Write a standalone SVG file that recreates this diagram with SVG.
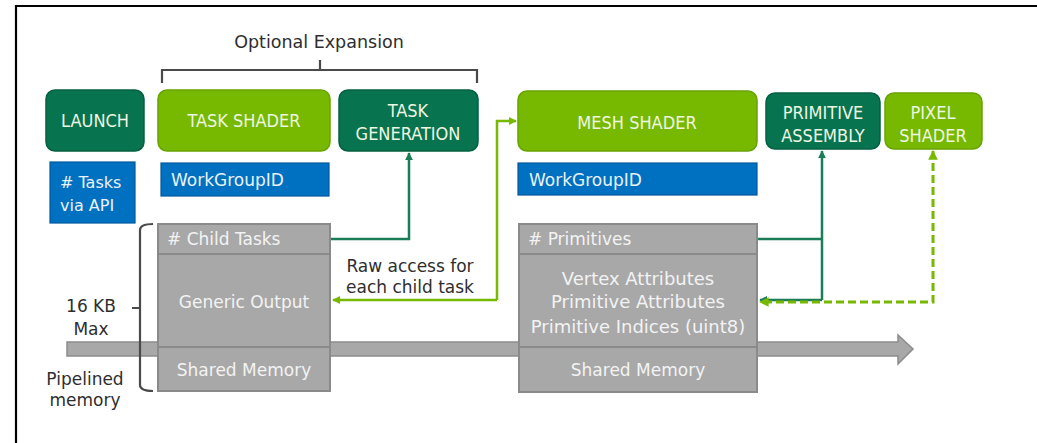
<svg xmlns="http://www.w3.org/2000/svg" width="1037" height="443" viewBox="0 0 1037 443">
<style>
.lg{fill:#76b900;stroke:#68a300;stroke-width:1.5}
.dg{fill:#08734f;stroke:#05603f;stroke-width:1.5}
.bl{fill:#0070c0;stroke:#0058a0;stroke-width:1.2}
.gr{fill:#a8a8a8;stroke:#8a8a8a;stroke-width:2}
.bt{font-family:"DejaVu Sans Condensed","DejaVu Sans",sans-serif;font-size:18px;fill:#eef6e2;text-anchor:middle}
.wt{font-family:"DejaVu Sans",sans-serif;font-size:17px;fill:#eaf2fb}
.gt{font-family:"DejaVu Sans",sans-serif;font-size:17px;fill:#f3f3f3}
.dt{font-family:"DejaVu Sans",sans-serif;font-size:17px;fill:#2e2e2e;text-anchor:middle}
.c1{fill:none;stroke:#1b7d58;stroke-width:2.5}
.c2{fill:none;stroke:#76b900;stroke-width:2.5}
.c3{fill:none;stroke:#76b900;stroke-width:3;stroke-dasharray:8 4}
.br{fill:none;stroke:#4a4a4a;stroke-width:2.2}
</style>
<defs>
<marker id="ad" viewBox="0 0 10 10" refX="9" refY="5" markerWidth="3.2" markerHeight="3.2" orient="auto-start-reverse"><path d="M0,0 L10,5 L0,10 z" fill="#1b7d58"/></marker>
<marker id="al" viewBox="0 0 10 10" refX="9" refY="5" markerWidth="3.2" markerHeight="3.2" orient="auto-start-reverse"><path d="M0,0 L10,5 L0,10 z" fill="#76b900"/></marker>
</defs>
<rect width="1037" height="443" fill="#ffffff"/>
<path d="M16,443 V6 H1037" fill="none" stroke="#000" stroke-width="2.2"/>

<g id="pipeline-arrow">
<polygon points="67,342 898,342 898,335 913,349 898,364 898,356 67,356" fill="#a8a8a8" stroke="#8c8c8c" stroke-width="1.5"/>
</g>

<g id="optional-expansion">
<path class="br" d="M162,83 V70 H477 V83 M320,70 V60"/>
<text x="319" y="48" class="dt" style="font-size:17.5px">Optional Expansion</text>
</g>

<g id="launch">
<rect x="46" y="90" width="98" height="61" rx="9" class="dg"/>
<text x="95" y="127" class="bt">LAUNCH</text>
</g>
<g id="task-shader">
<rect x="158" y="90" width="172" height="61" rx="9" class="lg"/>
<text x="244" y="127" class="bt">TASK SHADER</text>
</g>
<g id="task-generation">
<rect x="339" y="90" width="139" height="61" rx="9" class="dg"/>
<text x="408" y="117" class="bt">TASK</text>
<text x="408" y="140" class="bt">GENERATION</text>
</g>
<g id="mesh-shader">
<rect x="518" y="91" width="239" height="60" rx="9" class="lg"/>
<text x="637" y="129" class="bt">MESH SHADER</text>
</g>
<g id="primitive-assembly">
<rect x="766" y="93" width="114" height="56" rx="9" class="dg"/>
<text x="823" y="119" class="bt">PRIMITIVE</text>
<text x="823" y="142" class="bt">ASSEMBLY</text>
</g>
<g id="pixel-shader">
<rect x="885" y="93" width="97" height="56" rx="9" class="lg"/>
<text x="933" y="119" class="bt">PIXEL</text>
<text x="933" y="142" class="bt">SHADER</text>
</g>

<g id="tasks-via-api">
<rect x="50" y="162" width="85" height="61" class="bl"/>
<text x="60" y="188" class="wt" style="font-size:16px">
# Tasks</text>
<text x="60" y="211" class="wt" style="font-size:16px">via API</text>
</g>
<g id="task-workgroupid">
<rect x="161" y="163" width="168" height="33" class="bl"/>
<text x="171" y="186" class="wt">WorkGroupID</text>
</g>
<g id="mesh-workgroupid">
<rect x="518" y="163" width="239" height="32" class="bl"/>
<text x="529" y="186" class="wt">WorkGroupID</text>
</g>

<g id="task-output">
<rect x="158" y="224" width="172" height="30" class="gr"/>
<rect x="158" y="254" width="172" height="93" class="gr"/>
<rect x="158" y="347" width="172" height="44" class="gr"/>
<text x="167" y="245" class="gt"># Child Tasks</text>
<text x="244" y="308" class="gt" style="text-anchor:middle">Generic Output</text>
<text x="244" y="376" class="gt" style="text-anchor:middle">Shared Memory</text>
</g>

<g id="mesh-output">
<rect x="519" y="224" width="238" height="30" class="gr"/>
<rect x="519" y="254" width="238" height="93" class="gr"/>
<rect x="519" y="347" width="238" height="45" class="gr"/>
<text x="528" y="245" class="gt"># Primitives</text>
<text x="638" y="285" class="gt" style="text-anchor:middle;font-size:18px">Vertex Attributes</text>
<text x="638" y="308" class="gt" style="text-anchor:middle;font-size:18px">Primitive Attributes</text>
<text x="638" y="333" class="gt" style="text-anchor:middle;font-size:18px">Primitive Indices (uint8)</text>
<text x="638" y="376" class="gt" style="text-anchor:middle">Shared Memory</text>
</g>

<g id="memory-bracket">
<path class="br" d="M153,224 Q140,224 140,230 V385 Q140,391 153,391 M140,308 H132"/>
<text x="91" y="312" class="dt">16 KB</text>
<text x="91" y="335" class="dt">Max</text>
<text x="85" y="385" class="dt">Pipelined</text>
<text x="85" y="406" class="dt">memory</text>
</g>

<g id="raw-access-label">
<text x="410" y="272" class="dt">Raw access for</text>
<text x="410" y="293" class="dt">each child task</text>
</g>

<g id="connectors">
<path class="c1" d="M331,239 H409 V153" marker-end="url(#ad)"/>
<path class="c2" d="M497,300 V121 H516" marker-end="url(#al)"/>
<path class="c2" d="M497,300 H333" marker-end="url(#al)"/>
<path class="c1" d="M758,239 H822 M822,300 V151" marker-end="url(#ad)"/>
<path class="c1" d="M822,300 H760" marker-end="url(#ad)"/>
<path class="c3" d="M933,151 V302 H760" marker-start="url(#al)" marker-end="url(#al)"/>
</g>
</svg>
